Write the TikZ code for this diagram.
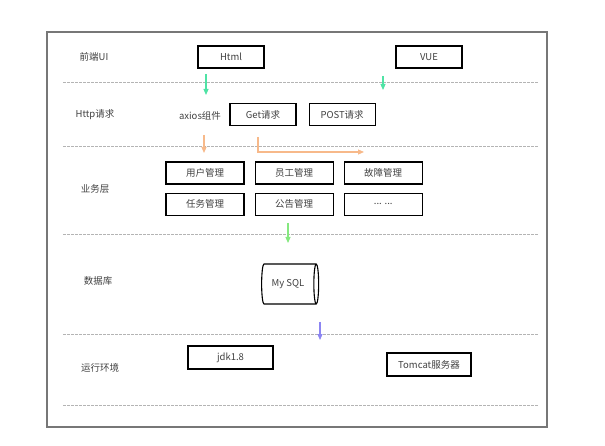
\documentclass[tikz,border=0pt]{standalone}
\usepackage{fontspec}
\setmainfont{Noto Sans CJK SC}
\usetikzlibrary{arrows.meta,positioning,shapes.geometric}
\definecolor{archText}{HTML}{404040}
\definecolor{archFrame}{HTML}{777777}
\definecolor{archDash}{HTML}{B4B4B4}
\definecolor{archMint}{HTML}{4FE3A5}
\definecolor{archGreen}{HTML}{85E87F}
\definecolor{archOrange}{HTML}{F7B98A}
\definecolor{archPurple}{HTML}{8C85F2}

\begin{document}
\begin{tikzpicture}[x=1pt,y=-1pt,font=\fontsize{9.5}{11}\selectfont,text=archText,
  box/.style={draw=black,line width=1.1pt,minimum height=22pt,inner sep=2pt},
  layer/.style={text=archText},
  sep/.style={draw=archDash,line width=0.6pt,dash pattern=on 2.5pt off 1.5pt},
  flow/.style={line width=1.1pt,-{Triangle[length=6pt,width=5pt]}}]
  \useasboundingbox (0,0) rectangle (605,446);
  \draw[archFrame,line width=1.4pt] (47,32) rectangle (547,427);
  \foreach \y in {82,146,234,334,405}
    \draw[sep] (63,\y) -- (539,\y);

  % layer names
  \node[layer] (ui)   at (94,57)  {前端UI};
  \node[layer] (http) at (95,115) {Http请求};
  \node[layer] (biz)  at (95,189) {业务层};
  \node[layer] (db)   at (98,281) {数据库};
  \node[layer] (env)  at (100,368) {运行环境};

  % front end
  \node[box,minimum width=66pt] (html) at (231,57) {Html};
  \node[box,minimum width=66pt] (vue)  at (429,57) {VUE};

  % requests
  \node (axios) at (200,116) {axios组件};
  \node[box,minimum width=66pt] (get) at (263,114.5) {Get请求};
  \node[box,minimum width=66pt,right=12pt of get] (post) {POST请求};

  % business
  \node[box,minimum width=78pt] (user) at (205,173) {用户管理};
  \node[box,minimum width=78pt,right=10pt of user]  (staff) {员工管理};
  \node[box,minimum width=78pt,right=10pt of staff] (fault) {故障管理};
  \node[box,minimum width=78pt,below=8pt of user]   (task)   {任务管理};
  \node[box,minimum width=78pt,below=8pt of staff]  (notice) {公告管理};
  \node[box,minimum width=78pt,below=8pt of fault]  (more)   {... ...};

  % database
  \node[draw=black,line width=1.1pt,cylinder,shape aspect=0.3,
        minimum height=57pt,minimum width=40pt] (mysql) at (288,284) {My SQL};

  % runtime
  \node[box,minimum width=85pt,minimum height=23pt] (jdk)    at (230.5,357.5) {jdk1.8};
  \node[box,minimum width=84pt,minimum height=23pt] (tomcat) at (429,364.5) {Tomcat服务器};

  % flow marks
  \coordinate (h1) at (206,74);  \coordinate (h2) at (206,95);
  \coordinate (v1) at (383,76);  \coordinate (v2) at (383,90);
  \coordinate (o1) at (204,135); \coordinate (o2) at (204,153);
  \coordinate (g1) at (258,137); \coordinate (g2) at (364,152);
  \coordinate (b1) at (288,223); \coordinate (b2) at (288,243);
  \coordinate (d1) at (320,322); \coordinate (d2) at (320,340);
  \draw[flow,archMint]   (h1) -- (h2);
  \draw[flow,archMint]   (v1) -- (v2);
  \draw[flow,archOrange] (o1) -- (o2);
  \draw[flow,archOrange] (g1) |- (g2);
  \draw[flow,archGreen]  (b1) -- (b2);
  \draw[flow,archPurple] (d1) -- (d2);
\end{tikzpicture}
\end{document}
